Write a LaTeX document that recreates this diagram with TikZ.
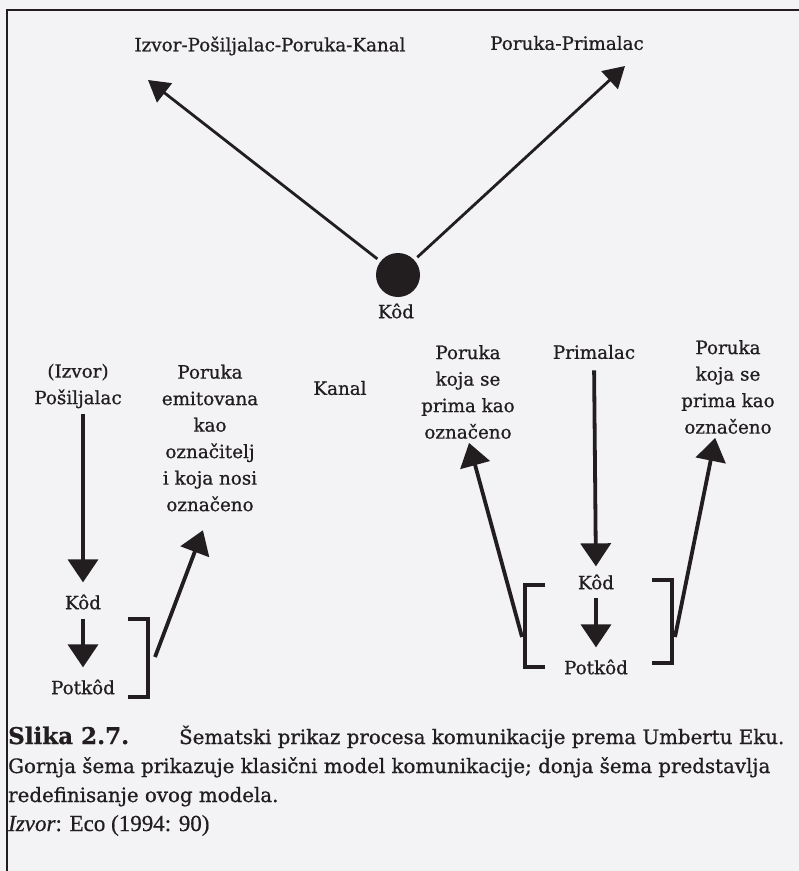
\documentclass[tikz,border=0pt]{standalone}
\usepackage{fontspec}
\setmainfont{DejaVu Serif}[RawFeature={embolden=0.8}]
\newfontfamily\srcfont{Liberation Serif}[RawFeature={embolden=0.6}]
\usetikzlibrary{arrows.meta, positioning}

\definecolor{paper}{RGB}{243,243,246}
\definecolor{ink}{RGB}{34,30,32}

\begin{document}
\begin{tikzpicture}[x=1pt, y=-1pt,
    every node/.style={font=\fontsize{18.3}{26.5}\selectfont, text=ink, inner sep=0pt},
    lbl/.style={align=center},
    arrow/.style={-{Triangle[length=21pt, width=24pt]}, line width=2.8pt, draw=ink},
    bigarrow/.style={-{Triangle[length=23pt, width=30pt]}, line width=3.8pt, draw=ink},
    bracket/.style={line width=3.8pt, draw=ink},
    caption/.style={anchor=base west, font=\fontsize{19.8}{24}\selectfont}
]

% page
\fill[paper] (0,0) rectangle (799,871);
\useasboundingbox (0,0) rectangle (799,871);
\draw[line width=2.5pt, ink] (7,871) -- (7,10) -- (799,10);

% classic model
\node (classic) at (270,46) {Izvor-Pošiljalac-Poruka-Kanal};
\node (receiver) at (567,43) {Poruka-Primalac};
\node[circle, fill=ink, minimum size=44pt] (dot) at (398,275) {};
\node (kodtop) at (396,311) {Kôd};
\coordinate (tipA) at (148,80);
\coordinate (tipB) at (625,66);

\draw[arrow, shorten <=4pt] (dot) -- (tipA);
\draw[arrow, shorten <=4pt] (dot) -- (tipB);

% redefined model, sender side
\node[lbl] (sender) at (78,386) {(Izvor)\\Pošiljalac};
\node[lbl] (emitted) at (210,438) {Poruka\\emitovana\\kao\\označitelj\\i koja nosi\\označeno};
\node (kanal) at (340,388) {Kanal};
\node (kodL) at (83,602) {Kôd};
\node (potkodL) at (83,687) {Potkôd};

\draw[bigarrow, shorten <=6pt, shorten >=12pt] (sender.south -| kodL) -- (kodL.north);
\draw[bigarrow, shorten <=9pt, shorten >=12pt] (kodL.south) -- (potkodL.north);
\draw[bracket] (128,619) -- (148,619) -- (148,697) -- (128,697);
\coordinate (brL) at (155,657);
\draw[bigarrow, shorten >=20pt] (brL) -- (emitted.south);

% redefined model, receiver side
\node[lbl] (recv1) at (468,392) {Poruka\\koja se\\prima kao\\označeno};
\node (primalac) at (594,352) {Primalac};
\node[lbl] (recv2) at (728,387) {Poruka\\koja se\\prima kao\\označeno};
\node (kodR) at (596,582) {Kôd};
\node (potkodR) at (596,667) {Potkôd};

\draw[bigarrow, shorten <=11pt, shorten >=8pt] (primalac.south) -- (kodR.north);
\draw[bigarrow, shorten <=8pt, shorten >=12pt] (kodR.south) -- (potkodR.north);
\draw[bracket] (545,585) -- (525,585) -- (525,667) -- (545,667);
\draw[bracket] (652,580) -- (672,580) -- (672,663) -- (652,663);
\coordinate (brR1) at (522,637);
\coordinate (brR2) at (675,637);
\draw[bigarrow, shorten >=4pt] (brR1) -- (recv1.south);
\draw[bigarrow, shorten >=4pt] (brR2) -- ([xshift=-12pt]recv2.south);

% caption
\node[caption] (cap1) at (8,744) {{\fontsize{23}{24}\selectfont\bfseries Slika 2.7.}\hspace{50pt}Šematski prikaz procesa komunikacije prema Umbertu Eku.};
\node[caption] (cap2) at (8,773) {Gornja šema prikazuje klasični model komunikacije; donja šema predstavlja};
\node[caption] (cap3) at (8,802) {redefinisanje ovog modela.};
\node[caption, font=\srcfont\fontsize{23}{24}\selectfont] (source) at (8,831) {\textit{Izvor}: Eco (1994: 90)};

\end{tikzpicture}
\end{document}
